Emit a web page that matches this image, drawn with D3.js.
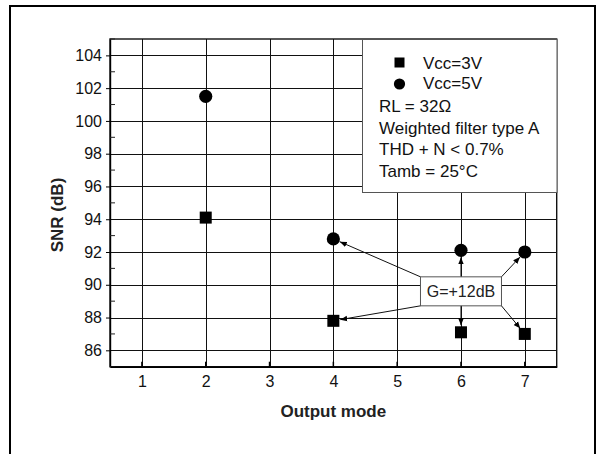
<!DOCTYPE html>
<html><head><meta charset="utf-8">
<script src="https://cdn.jsdelivr.net/npm/d3@7"></script>
<style>
html,body{margin:0;padding:0;background:#fff;}
svg{display:block;font-family:"Liberation Sans",Arial,Helvetica,sans-serif;}
</style></head>
<body>
<svg id="chart" width="600" height="454"></svg>
<script>
// ---- data ----
const outputModes = [2, 4, 6, 7];
const snrVcc3V = [94.1, 87.8, 87.1, 87.0];
const snrVcc5V = [101.5, 92.8, 92.1, 92.0];
const xTickValues = [1, 2, 3, 4, 5, 6, 7];
const yTickValues = [86, 88, 90, 92, 94, 96, 98, 100, 102, 104];
const yMinorTicks = [85, 87, 89, 91, 93, 95, 97, 99, 101, 103, 105];
const legendSeries = ["Vcc=3V", "Vcc=5V"];
const legendNotes = ["RL = 32\u03A9", "Weighted filter type A", "THD + N < 0.7%", "Tamb = 25\u00B0C"];
const gainLabel = "G=+12dB";
const gainModes = [4, 6, 7];          // points pointed to by the G=+12dB note
const gainBoxAt = [6, 89.6];          // note position in data units

// ---- layout ----
const svg = d3.select("#chart");
const L = 110, T = 39, R = 556.7, B = 366.7;
const x = d3.scaleLinear().domain([0.5, 7.5]).range([L, R]);
const y = d3.scaleLinear().domain([85, 105]).range([B, T]);

// outer frame
svg.append("rect").attr("x", 10).attr("y", 6).attr("width", 585).attr("height", 460)
  .attr("fill", "none").attr("stroke", "#000").attr("stroke-width", 2);

// grid
const grid = svg.append("g").attr("stroke", "#111").attr("stroke-width", 1).attr("shape-rendering", "crispEdges");
grid.selectAll("line.v").data(xTickValues).join("line")
  .attr("x1", d => Math.round(x(d)) + 0.5).attr("x2", d => Math.round(x(d)) + 0.5)
  .attr("y1", T).attr("y2", B);
grid.selectAll("line.h").data(yTickValues).join("line")
  .attr("y1", d => Math.round(y(d)) + 0.5).attr("y2", d => Math.round(y(d)) + 0.5)
  .attr("x1", L).attr("x2", R);

// frame of plot
svg.append("rect").attr("x", L).attr("y", T).attr("width", R - L).attr("height", B - T)
  .attr("fill", "none").attr("stroke", "#111").attr("stroke-width", 1.4);

// y axis
const yAxis = svg.append("g").attr("transform", `translate(${L},0)`)
  .call(d3.axisLeft(y).tickValues(yTickValues).tickSize(4).tickPadding(4).tickSizeOuter(0));
yAxis.select(".domain").attr("stroke", "#000").attr("stroke-width", 1.4);
yAxis.selectAll("text").attr("font-size", 16).attr("fill", "#111").style("font-family", "Liberation Sans, Arial, sans-serif");
// minor inward ticks
svg.append("g").selectAll("line").data(yMinorTicks).join("line")
  .attr("x1", L).attr("x2", L + 5).attr("y1", d => y(d)).attr("y2", d => y(d))
  .attr("stroke", "#222");

// x axis
const xAxis = svg.append("g").attr("transform", `translate(0,${B})`)
  .call(d3.axisBottom(x).tickValues(xTickValues).tickSize(0).tickPadding(9).tickSizeOuter(0).tickFormat(d3.format("d")));
xAxis.select(".domain").attr("stroke", "#000").attr("stroke-width", 1.4);
xAxis.selectAll("text").attr("font-size", 16).attr("fill", "#111").style("font-family", "Liberation Sans, Arial, sans-serif");
svg.append("g").selectAll("line").data(xTickValues).join("line")
  .attr("x1", d => x(d)).attr("x2", d => x(d)).attr("y1", B).attr("y2", B - 5)
  .attr("stroke", "#000").attr("stroke-width", 1.5);

// axis titles
svg.append("text").attr("transform", "translate(57,215) rotate(-90)")
  .attr("text-anchor", "middle").attr("dy", "0.35em")
  .attr("font-size", 17).attr("font-weight", "bold").attr("fill", "#222").text("SNR (dB)");
svg.append("text").attr("x", (L + R) / 2).attr("y", 417)
  .attr("text-anchor", "middle").attr("font-size", 17).attr("font-weight", "bold").attr("fill", "#222").text("Output mode");

// legend box
const lg = svg.append("g");
lg.append("rect").attr("x", 362.5).attr("y", 39.5).attr("width", 194.5).attr("height", 153)
  .attr("fill", "#fff").attr("stroke", "#555").attr("stroke-width", 1);
lg.append("rect").attr("x", 394.5).attr("y", 57.5).attr("width", 10).attr("height", 10).attr("fill", "#000");
lg.append("circle").attr("cx", 399.5).attr("cy", 84).attr("r", 5.6).attr("fill", "#000");
lg.selectAll("text.s").data(legendSeries).join("text")
  .attr("x", 423).attr("y", (d, i) => 68.7 + i * 20.5)
  .attr("font-size", 17).attr("fill", "#111").text(d => d);
lg.selectAll("text.n").data(legendNotes).join("text")
  .attr("x", 379).attr("y", (d, i) => 112 + i * 21.5)
  .attr("font-size", 17).attr("fill", "#111").text(d => d);

// data markers
const sq = 12;
svg.append("g").selectAll("rect").data(outputModes).join("rect")
  .attr("x", d => x(d) - sq / 2).attr("y", (d, i) => y(snrVcc3V[i]) - sq / 2)
  .attr("width", sq).attr("height", sq).attr("fill", "#000");
svg.append("g").selectAll("circle").data(outputModes).join("circle")
  .attr("cx", d => x(d)).attr("cy", (d, i) => y(snrVcc5V[i])).attr("r", 6.6).attr("fill", "#000");

// G=+12dB annotation
svg.append("defs").append("marker").attr("id", "ah").attr("viewBox", "0 0 10 10")
  .attr("refX", 10).attr("refY", 5).attr("markerWidth", 7).attr("markerHeight", 7)
  .attr("markerUnits", "userSpaceOnUse").attr("orient", "auto")
  .append("path").attr("d", "M0,1 L10,5 L0,9 Z").attr("fill", "#000");

const bw = 81, bh = 29;
const bcx = x(gainBoxAt[0]), bcy = y(gainBoxAt[1]);
const bx0 = bcx - bw / 2, bx1 = bcx + bw / 2, by0 = bcy - bh / 2, by1 = bcy + bh / 2;
const arrows = [];
gainModes.forEach(m => {
  const i = outputModes.indexOf(m);
  [[snrVcc5V[i], true], [snrVcc3V[i], false]].forEach(([v, up]) => {
    let sx;
    if (Math.abs(x(m) - bcx) < 2) sx = bcx; else sx = x(m) < bcx ? bx0 : bx1;
    const sy = up ? by0 : by1;
    const tx = x(m), ty = y(v);
    const dx = tx - sx, dy = ty - sy, len = Math.hypot(dx, dy);
    const off = 7;
    arrows.push({ sx, sy, ex: tx - dx / len * off, ey: ty - dy / len * off });
  });
});
svg.append("g").selectAll("line").data(arrows).join("line")
  .attr("x1", d => d.sx).attr("y1", d => d.sy).attr("x2", d => d.ex).attr("y2", d => d.ey)
  .attr("stroke", "#111").attr("stroke-width", 1).attr("marker-end", "url(#ah)");
svg.append("rect").attr("x", bx0).attr("y", by0).attr("width", bw).attr("height", bh)
  .attr("fill", "#fff").attr("stroke", "#555").attr("stroke-width", 1);
svg.append("text").attr("x", bcx).attr("y", by0 + 20.5).attr("text-anchor", "middle")
  .attr("font-size", 16).attr("fill", "#222").text(gainLabel);
</script>
</body></html>
